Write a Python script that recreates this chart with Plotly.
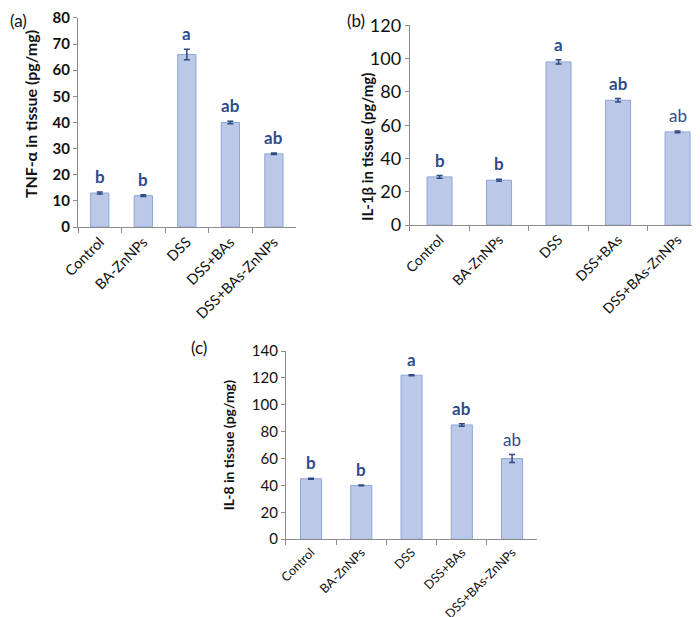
import plotly.graph_objects as go

categories = ["Control", "BA-ZnNPs", "DSS", "DSS+BAs", "DSS+BAs-ZnNPs"]

tnf_values = [13, 12, 66, 40, 28]
tnf_errors = [0.4, 0.3, 2.0, 0.5, 0.3]
tnf_letters = ["b", "b", "a", "ab", "ab"]
tnf_bold = [True, True, True, True, True]

il1b_values = [29, 27, 98, 75, 56]
il1b_errors = [0.8, 0.6, 1.3, 1.0, 0.5]
il1b_letters = ["b", "b", "a", "ab", "ab"]
il1b_bold = [True, True, True, True, False]

il8_values = [45, 40, 122, 85, 60]
il8_errors = [0.4, 0.3, 0.4, 1.0, 3.0]
il8_letters = ["b", "b", "a", "ab", "ab"]
il8_bold = [True, True, True, True, False]

panel_labels = ["(a)", "(b)", "(c)"]
y_titles = ["TNF-α in tissue (pg/mg)", "IL-1β in tissue (pg/mg)", "IL-8 in tissue (pg/mg)"]

FONT = "Lato"
BAR_FILL = "#BBC8E8"
BAR_EDGE = "#8EA6D6"
ERR_COL = "#2E4A7E"
LETTER_COL = "#2F4C8C"
AXIS_COL = "#8C8C8C"

fig = go.Figure()

panels = [
    ("x", "y", tnf_values, tnf_errors, tnf_letters, tnf_bold),
    ("x2", "y2", il1b_values, il1b_errors, il1b_letters, il1b_bold),
    ("x3", "y3", il8_values, il8_errors, il8_letters, il8_bold),
]

for xa, ya, vals, errs, letters, bolds in panels:
    fig.add_trace(go.Bar(
        x=categories, y=vals, xaxis=xa, yaxis=ya,
        width=0.42,
        marker=dict(color=BAR_FILL, line=dict(color=BAR_EDGE, width=1)),
        error_y=dict(type="data", array=errs, visible=True,
                     color=ERR_COL, thickness=1.5, width=3),
        showlegend=False,
    ))
    for c, v, e, t, b in zip(categories, vals, errs, letters, bolds):
        fig.add_annotation(
            x=c, y=v + e, xref=xa, yref=ya, text=f"<b>{t}</b>" if b else t,
            showarrow=False, yanchor="bottom", yshift=3,
            font=dict(family=FONT, size=17, color=LETTER_COL),
        )

common_x = dict(type="category", showline=True, linecolor=AXIS_COL, linewidth=1,
                ticks="outside", tickson="boundaries", ticklen=5, tickcolor=AXIS_COL,
                tickangle=-45, showgrid=False, zeroline=False, automargin=False)
common_y = dict(showline=True, linecolor=AXIS_COL, linewidth=1, ticks="outside",
                ticklen=4, tickcolor=AXIS_COL, showgrid=False, zeroline=False,
                automargin=False)

fig.update_layout(
    width=700, height=617,
    margin=dict(l=0, r=0, t=0, b=0),
    paper_bgcolor="white", plot_bgcolor="white",
    xaxis=dict(domain=[0.1, 0.411], anchor="y",
               tickfont=dict(family=FONT, size=14.5, color="#111111"), **common_x),
    yaxis=dict(domain=[0.645, 0.984], anchor="x", range=[0, 80], dtick=10,
               tickfont=dict(family=FONT, size=15, color="#111111", weight="bold"),
               **common_y),
    xaxis2=dict(domain=[0.574, 0.999], anchor="y2",
                tickfont=dict(family=FONT, size=14, color="#111111"), **common_x),
    yaxis2=dict(domain=[0.648, 0.972], anchor="x2", range=[0, 120], dtick=20,
                tickfont=dict(family=FONT, size=18, color="#111111"),
                **common_y),
    xaxis3=dict(domain=[0.397, 0.756], anchor="y3",
                tickfont=dict(family=FONT, size=12.5, color="#111111"), **common_x),
    yaxis3=dict(domain=[0.139, 0.444], anchor="x3", range=[0, 140], dtick=20,
                tickfont=dict(family=FONT, size=15, color="#111111"),
                **common_y),
)

# y-axis titles (rotated), placed beside each panel
for txt, (px, py), sz in zip(y_titles, [(0.0314, 0.828), (0.513, 0.775), (0.315, 0.292)],
                             [16, 15, 14]):
    fig.add_annotation(text=f"<b>{txt}</b>", x=px, y=py, xref="paper", yref="paper",
                       xanchor="center", yanchor="middle", textangle=-90,
                       showarrow=False, font=dict(family=FONT, size=sz, color="#111111"))

for lbl, (px, py) in zip(panel_labels, [(0.0, 1.0), (0.481, 1.0), (0.259, 0.47)]):
    fig.add_annotation(text=lbl, x=px, y=py, xref="paper", yref="paper",
                       xanchor="left", yanchor="top", showarrow=False,
                       font=dict(family=FONT, size=17, color="#111111"))

fig.write_html("out.html")
